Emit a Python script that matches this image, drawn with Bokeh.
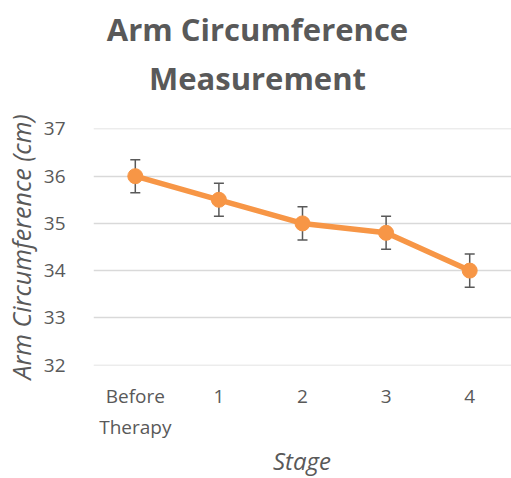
from bokeh.plotting import figure
from bokeh.models import ColumnDataSource, Whisker, TeeHead, FixedTicker, Range1d, Div
from bokeh.layouts import column
from bokeh.embed import file_html
from bokeh.resources import INLINE

stages = ["Before\nTherapy", "1", "2", "3", "4"]
circumference = [36.0, 35.5, 35.0, 34.8, 34.0]
error = [0.35, 0.35, 0.35, 0.35, 0.35]
y_ticks = [32, 33, 34, 35, 36, 37]

title_lines = ["Arm Circumference", "Measurement"]
x_title = "Stage"
y_title = "Arm Circumference (cm)"

TEXT = "#595959"
ORANGE = "#F79646"
FONT = "Open Sans"

src = ColumnDataSource(dict(
    x=stages, y=circumference,
    lower=[v - e for v, e in zip(circumference, error)],
    upper=[v + e for v, e in zip(circumference, error)],
))

title_div = Div(
    text=('<div style="font-family:\'Open Sans\';font-weight:bold;font-size:31px;'
          'line-height:49px;color:%s;text-align:center;width:495px;margin-left:10px;'
          'margin-top:5px;">%s</div>' % (TEXT, "<br>".join(title_lines))),
    width=505, height=108, margin=0, styles={"overflow": "visible"})

p = figure(x_range=stages, y_range=Range1d(31.99, 37.01), width=511, height=337,
           title=None, output_backend="svg", toolbar_location=None,
           min_border_left=93, min_border_right=0, min_border_top=20, min_border_bottom=80)
p.outline_line_color = None

p.xgrid.grid_line_color = None
p.ygrid.grid_line_color = "#D9D9D9"
p.ygrid.grid_line_width = 1.3

for ax in (p.xaxis[0], p.yaxis[0]):
    ax.axis_line_color = None
    ax.major_tick_line_color = None
    ax.minor_tick_line_color = None
    ax.major_label_text_color = TEXT
    ax.major_label_text_font = FONT
    ax.major_label_text_font_size = "19px"
    ax.axis_label_text_color = TEXT
    ax.axis_label_text_font = FONT
    ax.axis_label_text_font_style = "italic"

p.yaxis.ticker = FixedTicker(ticks=y_ticks)
p.yaxis.major_label_standoff = 22
p.yaxis.axis_label = y_title
p.yaxis.axis_label_text_font_size = "25px"
p.yaxis.axis_label_standoff = 3
p.xaxis.major_label_standoff = 11

p.line("x", "y", source=src, line_color=ORANGE, line_width=5.5)
p.add_layout(Whisker(source=src, base="x", lower="lower", upper="upper",
                     line_color=TEXT, line_width=1.5,
                     upper_head=TeeHead(size=10, line_color=TEXT, line_width=1.5),
                     lower_head=TeeHead(size=10, line_color=TEXT, line_width=1.5)))
p.scatter("x", "y", source=src, size=15, fill_color=ORANGE, line_color=ORANGE)

stage_div = Div(
    text=('<div style="font-family:\'Open Sans\';font-style:italic;font-size:24px;'
          'line-height:25px;color:%s;text-align:center;width:418px;margin-left:93px;'
          'padding-top:3px;">%s</div>' % (TEXT, x_title)),
    width=511, height=33, margin=0, styles={"overflow": "visible"})

layout = column(title_div, p, stage_div, spacing=0)

open("out.html", "w").write(file_html(layout, INLINE))
